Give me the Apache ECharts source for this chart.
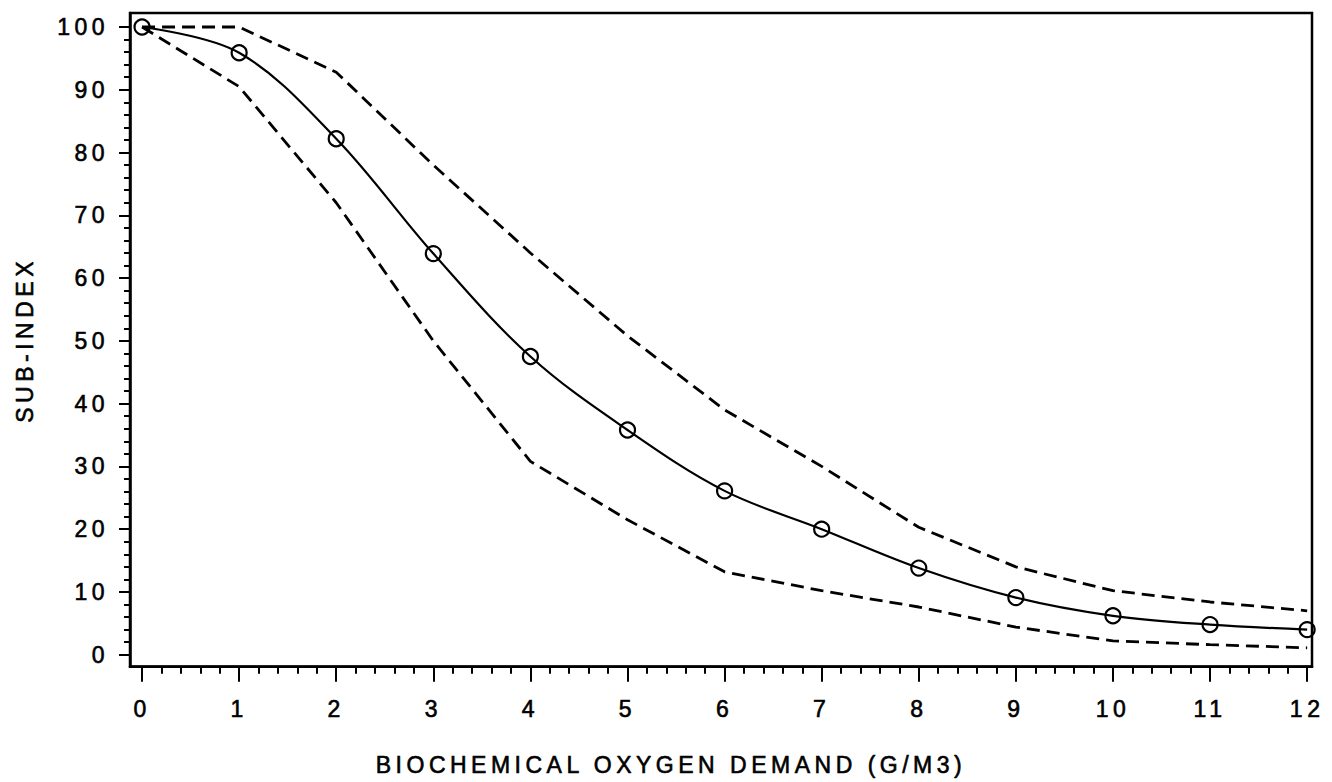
<!DOCTYPE html>
<html>
<head>
<meta charset="utf-8">
<title>Sub-index vs Biochemical Oxygen Demand</title>
<script src="https://cdn.jsdelivr.net/npm/echarts@6/dist/echarts.min.js"></script>
<style>
  html, body { margin: 0; padding: 0; background: #fff; }
  #chart { width: 1332px; height: 782px; }
  /* wide plotter-style lettering */
  #chart text { letter-spacing: 4.5px; }
</style>
</head>
<body>
<div id="chart"></div>
<script>
// BOD (g/m3) at each marked point
const bod = [0, 1, 2, 3, 4, 5, 6, 7, 8, 9, 10, 11, 12];
// Mean rating curve (solid line with circles)
const meanIndex = [100, 95.9, 82.2, 63.9, 47.5, 35.8, 26.1, 20.0, 13.8, 9.1, 6.2, 4.8, 4.0];
// Upper bound of the rating band (dashed)
const upperIndex = [100, 100, 92.8, 78.0, 64.0, 50.8, 39.0, 30.0, 20.3, 14.0, 10.2, 8.4, 7.0];
// Lower bound of the rating band (dashed)
const lowerIndex = [100, 90.5, 72.0, 50.0, 30.8, 21.5, 13.2, 10.2, 7.6, 4.4, 2.2, 1.6, 1.1];

// Tick labels
const xTicks = [0, 1, 2, 3, 4, 5, 6, 7, 8, 9, 10, 11, 12];
const yTicks = [0, 10, 20, 30, 40, 50, 60, 70, 80, 90, 100];

const xTitle = 'BIOCHEMICAL OXYGEN DEMAND (G/M3)';
const yTitle = 'SUB-INDEX';

// minor ticks: five subdivisions between neighbouring major ticks
function minorTicks(major, parts) {
  const out = [];
  for (let i = 0; i < major.length - 1; i++) {
    const step = (major[i + 1] - major[i]) / parts;
    for (let k = 1; k < parts; k++) out.push(+(major[i] + k * step).toFixed(4));
  }
  return out;
}
const xMinor = minorTicks(xTicks, 5);
const yMinor = minorTicks(yTicks, 5);

const FONT = '"Liberation Sans", Arial, Helvetica, sans-serif';
const FS = 23;
// shared text look: plotter lettering with a slightly heavy stroke
const TEXT = { color: '#000', fontFamily: FONT, fontSize: FS, textBorderColor: '#000', textBorderWidth: 0.6 };
const X_MIN = -0.124, X_MAX = 12.05;
const Y_MIN = -1.91, Y_MAX = 102.23;

const pairs = vals => bod.map((x, i) => [x, vals[i]]);

const chart = echarts.init(document.getElementById('chart'), null, { renderer: 'svg' });

chart.setOption({
  animation: false,
  backgroundColor: '#fff',
  grid: {
    left: 130, right: 20, top: 13, bottom: 114,
    show: true, borderColor: '#000', borderWidth: 2.5, backgroundColor: '#fff'
  },
  xAxis: [
    {
      type: 'value', min: X_MIN, max: X_MAX, position: 'bottom',
      axisLine: { show: true, onZero: false, lineStyle: { color: '#000', width: 2.5 } },
      axisTick: { show: true, customValues: xTicks, length: 15, lineStyle: { color: '#000', width: 2 } },
      axisLabel: Object.assign({ show: true, customValues: xTicks, margin: 31 }, TEXT),
      splitLine: { show: false },
      name: xTitle, nameLocation: 'middle', nameGap: 87,
      nameTextStyle: Object.assign({ padding: [0, 100, 0, 0] }, TEXT)
    },
    {
      type: 'value', min: X_MIN, max: X_MAX, position: 'bottom',
      axisLine: { show: false, onZero: false },
      axisTick: { show: true, customValues: xMinor, length: 7, lineStyle: { color: '#000', width: 2 } },
      axisLabel: { show: false },
      splitLine: { show: false }
    }
  ],
  yAxis: [
    {
      type: 'value', min: Y_MIN, max: Y_MAX, position: 'left',
      axisLine: { show: true, onZero: false, lineStyle: { color: '#000', width: 2.5 } },
      axisTick: { show: true, customValues: yTicks, length: 11, lineStyle: { color: '#000', width: 2 } },
      axisLabel: Object.assign({ show: true, customValues: yTicks, margin: 21 }, TEXT),
      splitLine: { show: false },
      name: yTitle, nameLocation: 'middle', nameGap: 94, nameRotate: 90,
      nameTextStyle: Object.assign({}, TEXT)
    },
    {
      type: 'value', min: Y_MIN, max: Y_MAX, position: 'left',
      axisLine: { show: false, onZero: false },
      axisTick: { show: true, customValues: yMinor, length: 6, lineStyle: { color: '#000', width: 2 } },
      axisLabel: { show: false },
      splitLine: { show: false }
    }
  ],
  series: [
    {
      name: 'upper', type: 'line', data: pairs(upperIndex),
      symbol: 'none', smooth: false,
      lineStyle: { color: '#000', width: 2.8, type: [13, 7] }
    },
    {
      name: 'lower', type: 'line', data: pairs(lowerIndex),
      symbol: 'none', smooth: false,
      lineStyle: { color: '#000', width: 2.8, type: [13, 7] }
    },
    {
      name: 'mean', type: 'line', data: pairs(meanIndex),
      smooth: 0.35,
      symbol: 'circle', symbolSize: 15,
      itemStyle: { color: 'rgba(0,0,0,0)', borderColor: '#000', borderWidth: 2.2 },
      lineStyle: { color: '#000', width: 2.2 }
    }
  ]
});
</script>
</body>
</html>
